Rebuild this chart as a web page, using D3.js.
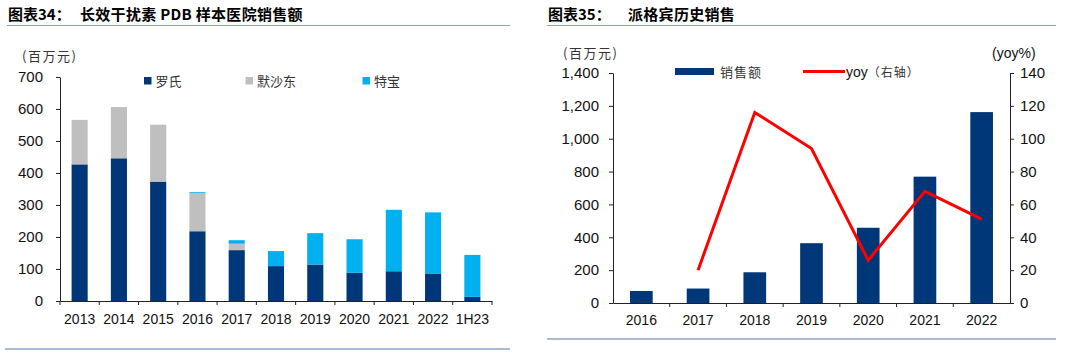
<!DOCTYPE html>
<html>
<head>
<meta charset="utf-8">
<script src="https://cdn.jsdelivr.net/npm/d3@7"></script>
<style>
  body { margin: 0; background: #fff; }
  svg { display: block; }
  .num { font-family: "Liberation Sans", Arial, sans-serif; fill: #111; }
  .cjk { font-family: "Noto Sans CJK SC", sans-serif; fill: #333; }
</style>
</head>
<body>
<svg id="chart" width="1066" height="354"></svg>
<script>
// chart 34 data (百万元)
var years34 = ["2013", "2014", "2015", "2016", "2017", "2018", "2019", "2020", "2021", "2022", "1H23"]
var roche = [427, 446, 373, 218, 159, 109, 114, 88, 93, 86, 13]
var msd = [139, 160, 178, 119, 20, 0, 0, 0, 0, 0, 0]
var tebao = [0, 0, 0, 3, 11, 47, 98, 105, 192, 191, 131]
var ticks34 = [0, 100, 200, 300, 400, 500, 600, 700]

// chart 35 data
var years35 = ["2016", "2017", "2018", "2019", "2020", "2021", "2022"]
var sales = [73, 88, 187, 364, 458, 769, 1162]
var yoy = [null, 20, 116, 94, 26, 68, 51]
var ticks35 = [0, 200, 400, 600, 800, 1000, 1200, 1400]
var ticksYoy = [0, 20, 40, 60, 80, 100, 120, 140]

var navy = "#003778", grey = "#bfbfbf", cyan = "#00b0f0", red = "#ff0000"
var svg = d3.select("#chart")

function header(x0, x1, label, title, titleX) {
    svg.append("text").attr("x", x0 + 1).attr("y", 20)
        .attr("class", "cjk").style("fill", "#000").style("font-weight", "bold")
        .style("font-size", "15px").text(label)
    svg.append("text").attr("x", titleX).attr("y", 20)
        .attr("class", "cjk").style("fill", "#000").style("font-weight", "bold")
        .style("font-size", "15px").style("letter-spacing", "0.3px").text(title)
    svg.append("line").attr("x1", x0).attr("x2", x1).attr("y1", 25.5).attr("y2", 25.5)
        .attr("stroke", "#8aa3c2").attr("stroke-width", 1.2)
}

// ---------- chart 34 ----------
header(7, 510, "图表34：", "长效干扰素 PDB 样本医院销售额", 80)
svg.append("line").attr("x1", 5).attr("x2", 510).attr("y1", 349).attr("y2", 349)
    .attr("stroke", "#a9bcd3").attr("stroke-width", 2)

var x1 = d3.scaleBand().domain(years34).range([60, 492])
var y1 = d3.scaleLinear().domain([0, 700]).range([301, 77])
var bw1 = x1.bandwidth() * 0.41

var stackData = years34.map((d, i) => ({ year: d, roche: roche[i], msd: msd[i], tebao: tebao[i] }))
var stack = d3.stack().keys(["roche", "msd", "tebao"])(stackData)
var colors34 = { roche: navy, msd: grey, tebao: cyan }

var g1 = svg.append("g")
g1.selectAll("g.layer")
    .data(stack)
    .enter()
    .append("g")
    .attr("fill", d => colors34[d.key])
    .selectAll("rect")
    .data(d => d)
    .enter()
    .append("rect")
    .attr("x", d => x1(d.data.year) + (x1.bandwidth() - bw1) / 2)
    .attr("width", bw1)
    .attr("y", d => y1(d[1]))
    .attr("height", d => y1(d[0]) - y1(d[1]))

var yAx1 = g1.append("g")
    .attr("transform", "translate(60,0)")
    .call(d3.axisLeft(y1).tickValues(ticks34).tickSize(4).tickPadding(13).tickSizeOuter(0))
yAx1.selectAll("text").attr("class", "num").style("font-size", "15px")
yAx1.selectAll("line, path").attr("stroke", "#222")

var xAx1 = g1.append("g")
    .attr("transform", "translate(0,301)")
    .call(d3.axisBottom(x1).tickSize(0).tickPadding(13).tickSizeOuter(0))
xAx1.selectAll("text").attr("class", "num").style("font-size", "14px")
xAx1.select("path").attr("stroke", "#222")
g1.selectAll("line.bt")
    .data(years34.concat(["end"]))
    .enter()
    .append("line")
    .attr("x1", d => d == "end" ? x1.range()[1] : x1(d))
    .attr("x2", d => d == "end" ? x1.range()[1] : x1(d))
    .attr("y1", 301).attr("y2", 305)
    .attr("stroke", "#222")

svg.append("text").attr("x", 22).attr("y", 61).attr("class", "cjk")
    .style("font-size", "13px").style("letter-spacing", "1.5px").text("(百万元)")

var legend34 = [["罗氏", navy, 144], ["默沙东", grey, 245.5], ["特宝", cyan, 362.5]]
legend34.forEach(function (l) {
    svg.append("rect").attr("x", l[2]).attr("y", 77).attr("width", 7.5).attr("height", 7.5).attr("fill", l[1])
    svg.append("text").attr("x", l[2] + 11.5).attr("y", 85.5).attr("class", "cjk")
        .style("font-size", "13px").text(l[0])
})

// ---------- chart 35 ----------
header(547, 1056, "图表35：", "派格宾历史销售", 628)
svg.append("line").attr("x1", 547).attr("x2", 1056).attr("y1", 339).attr("y2", 339)
    .attr("stroke", "#a9bcd3").attr("stroke-width", 2)

var x2 = d3.scaleBand().domain(years35).range([613, 1010])
var y2 = d3.scaleLinear().domain([0, 1400]).range([303, 73])
var y2r = d3.scaleLinear().domain([0, 140]).range([303, 73])
var bw2 = x2.bandwidth() * 0.4

var g2 = svg.append("g")
g2.selectAll("rect")
    .data(years35)
    .enter()
    .append("rect")
    .attr("x", d => x2(d) + (x2.bandwidth() - bw2) / 2)
    .attr("width", bw2)
    .attr("y", (d, i) => y2(sales[i]))
    .attr("height", (d, i) => y2(0) - y2(sales[i]))
    .attr("fill", navy)

var line = d3.line()
    .defined(d => d[1] != null)
    .x(d => x2(d[0]) + x2.bandwidth() / 2)
    .y(d => y2r(d[1]))
g2.append("path")
    .datum(years35.map((d, i) => [d, yoy[i]]))
    .attr("d", line)
    .attr("fill", "none")
    .attr("stroke", red)
    .attr("stroke-width", 3)

var yAx2 = g2.append("g")
    .attr("transform", "translate(613,0)")
    .call(d3.axisLeft(y2).tickValues(ticks35).tickSize(4).tickPadding(10).tickSizeOuter(0).tickFormat(d3.format(",")))
yAx2.selectAll("text").attr("class", "num").style("font-size", "15px")
yAx2.selectAll("line, path").attr("stroke", "#222")

var yAx2r = g2.append("g")
    .attr("transform", "translate(1010,0)")
    .call(d3.axisRight(y2r).tickValues(ticksYoy).tickSize(4).tickPadding(6).tickSizeOuter(0))
yAx2r.selectAll("text").attr("class", "num").style("font-size", "15px")
yAx2r.selectAll("line, path").attr("stroke", "#222")

var xAx2 = g2.append("g")
    .attr("transform", "translate(0,303)")
    .call(d3.axisBottom(x2).tickSize(0).tickPadding(12).tickSizeOuter(0))
xAx2.selectAll("text").attr("class", "num").style("font-size", "14px")
xAx2.select("path").attr("stroke", "#222")
g2.selectAll("line.bt")
    .data(years35.slice(1))
    .enter()
    .append("line")
    .attr("x1", d => x2(d)).attr("x2", d => x2(d))
    .attr("y1", 303).attr("y2", 307)
    .attr("stroke", "#222")

svg.append("text").attr("x", 563).attr("y", 58).attr("class", "cjk")
    .style("font-size", "13px").style("letter-spacing", "1.5px").text("(百万元)")
svg.append("text").attr("x", 992).attr("y", 58).attr("class", "num")
    .style("font-size", "14px").text("(yoy%)")

svg.append("rect").attr("x", 675).attr("y", 68).attr("width", 39).attr("height", 7).attr("fill", navy)
svg.append("text").attr("x", 720).attr("y", 77).attr("class", "cjk")
    .style("font-size", "13px").style("letter-spacing", "1px").text("销售额")
svg.append("line").attr("x1", 803).attr("x2", 845).attr("y1", 71.5).attr("y2", 71.5)
    .attr("stroke", red).attr("stroke-width", 3)
var yl = svg.append("text").attr("x", 846).attr("y", 77).attr("class", "num").style("font-size", "14px")
yl.append("tspan").text("yoy")
yl.append("tspan").attr("class", "cjk").style("font-size", "12px").style("letter-spacing", "1px").text("（右轴）")
</script>
</body>
</html>
